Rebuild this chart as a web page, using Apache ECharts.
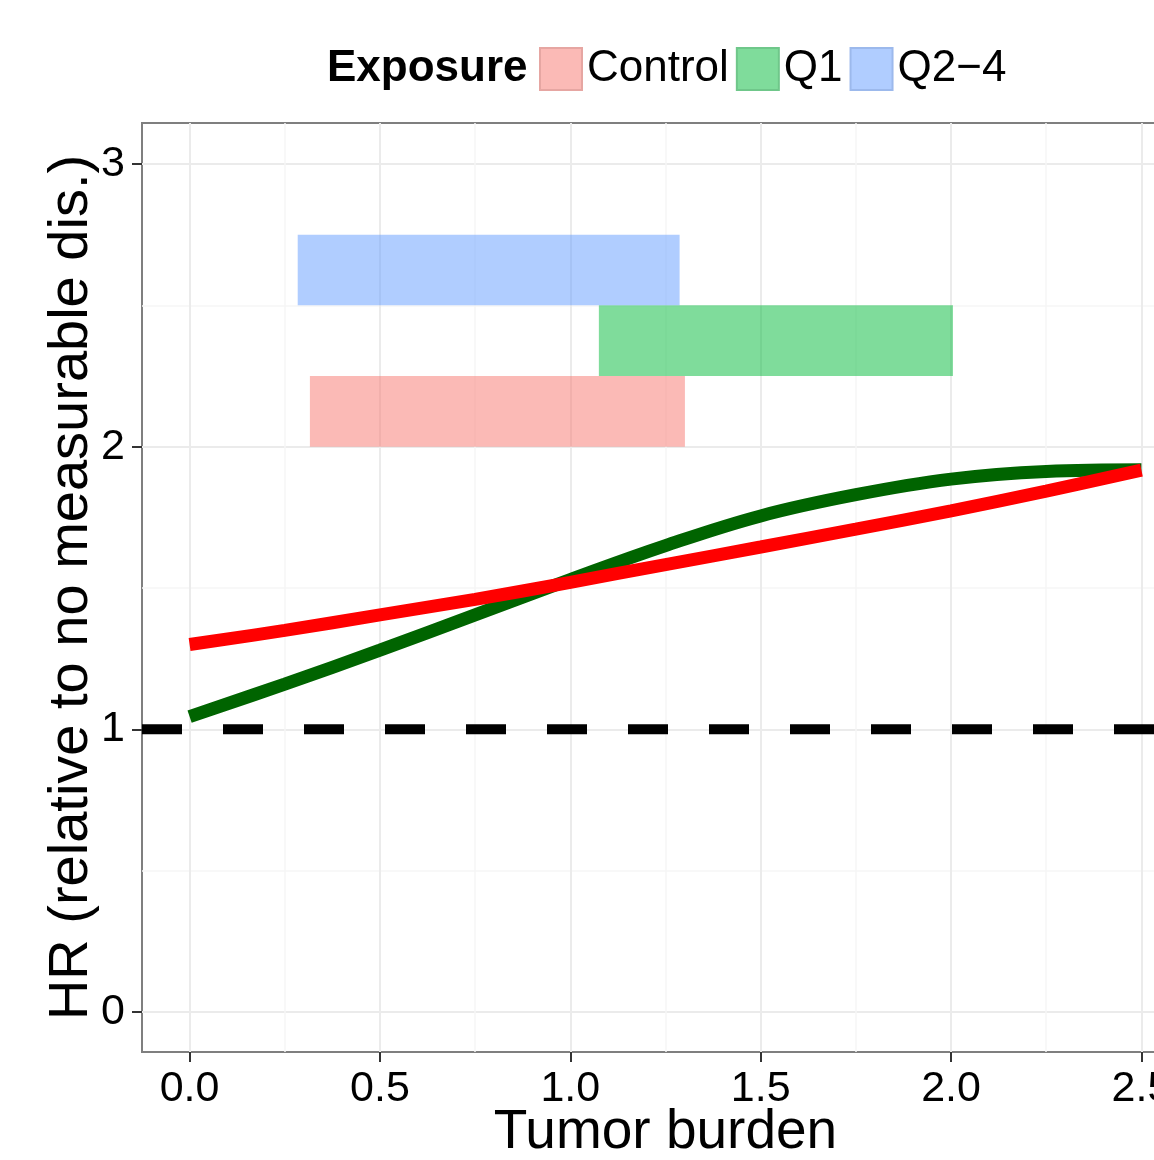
<!DOCTYPE html>
<html>
<head>
<meta charset="utf-8">
<script src="https://cdn.jsdelivr.net/npm/echarts@6/dist/echarts.min.js"></script>
<style>html,body{margin:0;padding:0;background:#fff;}#c{width:1154px;height:1160px;}</style>
</head>
<body>
<div id="c"></div>
<script>
// ---- data ----
const xRange = [-0.125, 2.625];
const yRange = [-0.1415, 3.145];
const xTicks = [0, 0.5, 1.0, 1.5, 2.0, 2.5];
const xMinorTicks = [0.25, 0.75, 1.25, 1.75, 2.25];
const yTicks = [0, 1, 2, 3];
const yMinorTicks = [0.5, 1.5, 2.5];

const groups = ['Control', 'Q1', 'Q2\u22124'];
// [xStart, xEnd, yStart, yEnd]
const rectControl = [0.316, 1.301, 2.0, 2.25];
const rectQ1 = [1.075, 2.005, 2.25, 2.5];
const rectQ24 = [0.284, 1.287, 2.5, 2.75];

const curveX = [0, 0.25, 0.5, 0.75, 1.0, 1.25, 1.5, 1.75, 2.0, 2.25, 2.5];
const greenHR = [1.045, 1.16, 1.28, 1.405, 1.53, 1.65, 1.755, 1.83, 1.885, 1.912, 1.918];
const redHR = [1.30, 1.35, 1.405, 1.46, 1.52, 1.583, 1.645, 1.708, 1.773, 1.843, 1.917];
const refHR = 1;

// ---- chart ----
const FONT = 'Liberation Sans, Arial, Helvetica, sans-serif';
const fills = ['rgba(248,118,109,0.5)', 'rgba(0,186,56,0.5)', 'rgba(97,156,255,0.5)'];
const borders = ['#e6a6a2', '#6fc78a', '#9cb9ec'];
const rects = [rectControl, rectQ1, rectQ24];

const chart = echarts.init(document.getElementById('c'), null, {renderer: 'canvas'});

function rectSeries(i) {
  return {
    type: 'custom',
    name: groups[i],
    xAxisIndex: 0, yAxisIndex: 0,
    data: [rects[i]],
    encode: {x: [0, 1], y: [2, 3]},
    itemStyle: {color: fills[i]},
    z: 2,
    renderItem: function (params, api) {
      const p0 = api.coord([api.value(0), api.value(3)]);
      const p1 = api.coord([api.value(1), api.value(2)]);
      return {
        type: 'rect',
        shape: {x: p0[0], y: p0[1], width: p1[0] - p0[0], height: p1[1] - p0[1]},
        style: {fill: fills[i]}
      };
    }
  };
}

const tickStyle = {show: true, length: 10, lineStyle: {color: '#333333', width: 2}};

chart.setOption({
  animation: false,
  textStyle: {fontFamily: FONT},
  graphic: [{
    type: 'text', left: 327, top: 47,
    style: {text: 'Exposure', font: 'bold 44px ' + FONT, fill: '#000'}
  }],
  legend: {
    left: 539, top: 47, padding: 0,
    itemWidth: 42, itemHeight: 42, itemGap: 7,
    textStyle: {fontSize: 44, color: '#000', fontFamily: FONT},
    data: groups.map((g, i) => ({name: g, icon: 'rect',
      itemStyle: {color: fills[i], borderColor: borders[i], borderWidth: 2}}))
  },
  grid: {
    left: 142, top: 123, width: 1047, height: 929,
    containLabel: false, outerBoundsMode: 'none',
    show: true, borderColor: '#7f7f7f', borderWidth: 2, backgroundColor: 'transparent'
  },
  xAxis: [{
    type: 'value', min: xRange[0], max: xRange[1], position: 'bottom',
    axisLine: {show: false, onZero: false},
    axisTick: Object.assign({customValues: xTicks}, tickStyle),
    axisLabel: {customValues: xTicks, fontSize: 43, color: '#000', margin: 16,
      formatter: v => v.toFixed(1)},
    splitLine: {show: true, lineStyle: {color: '#ebebeb', width: 2}},
    name: 'Tumor burden', nameLocation: 'middle', nameGap: 53, nameMoveOverlap: false,
    nameTextStyle: {fontSize: 55, color: '#000'}
  }, {
    type: 'value', min: xRange[0], max: xRange[1], position: 'bottom',
    axisLine: {show: false, onZero: false},
    axisTick: {show: false, customValues: xMinorTicks},
    axisLabel: {show: false},
    splitLine: {show: true, lineStyle: {color: '#f6f6f6', width: 1.5}}
  }],
  yAxis: [{
    type: 'value', min: yRange[0], max: yRange[1], position: 'left',
    axisLine: {show: false, onZero: false},
    axisTick: Object.assign({customValues: yTicks}, tickStyle),
    axisLabel: {customValues: yTicks, fontSize: 43, color: '#000', margin: 17},
    splitLine: {show: true, lineStyle: {color: '#ebebeb', width: 2}},
    name: 'HR (relative to no measurable dis.)', nameLocation: 'middle', nameGap: 42, nameMoveOverlap: false,
    nameTextStyle: {fontSize: 56, color: '#000'}
  }, {
    type: 'value', min: yRange[0], max: yRange[1], position: 'left',
    axisLine: {show: false, onZero: false},
    axisTick: {show: false, customValues: yMinorTicks},
    axisLabel: {show: false},
    splitLine: {show: true, lineStyle: {color: '#f6f6f6', width: 1.5}}
  }],
  series: [
    {
      type: 'line', name: 'ref', xAxisIndex: 0, yAxisIndex: 0,
      data: [[xRange[0], refHR], [xRange[1], refHR]],
      showSymbol: false, silent: true, z: 3,
      lineStyle: {color: '#000', width: 10, type: [40, 41]}
    },
    rectSeries(0), rectSeries(1), rectSeries(2),
    {
      type: 'line', name: 'green', xAxisIndex: 0, yAxisIndex: 0,
      data: curveX.map((x, i) => [x, greenHR[i]]),
      smooth: 0.4, showSymbol: false, z: 4,
      lineStyle: {color: '#006400', width: 13, cap: 'butt'}
    },
    {
      type: 'line', name: 'red', xAxisIndex: 0, yAxisIndex: 0,
      data: curveX.map((x, i) => [x, redHR[i]]),
      smooth: 0.4, showSymbol: false, z: 5,
      lineStyle: {color: '#ff0000', width: 13, cap: 'butt'}
    }
  ]
});
</script>
</body>
</html>
